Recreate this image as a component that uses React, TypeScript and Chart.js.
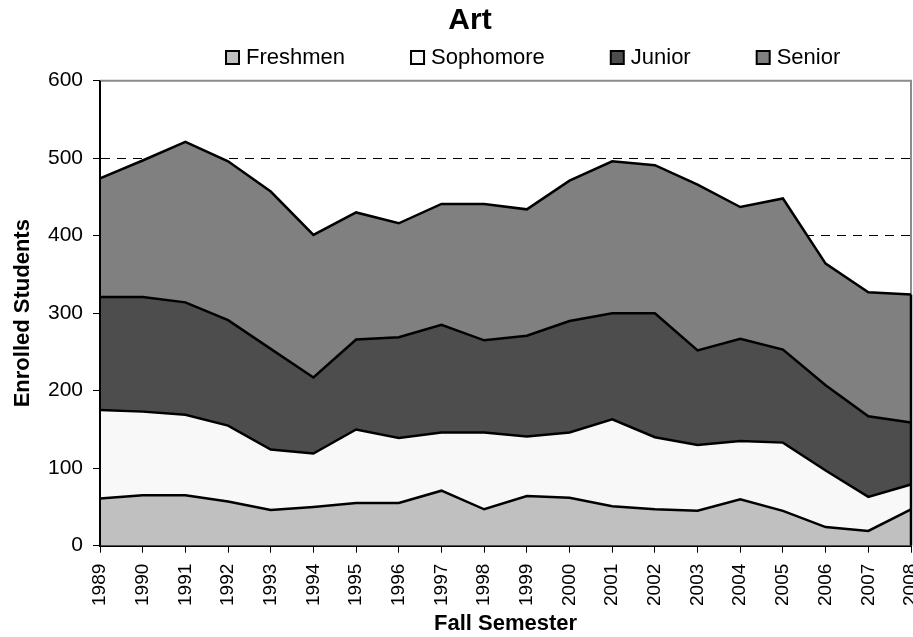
import React, { useEffect, useRef } from 'react';
import { Chart, registerables } from 'chart.js';

Chart.register(...registerables);

const years = ['1989', '1990', '1991', '1992', '1993', '1994', '1995', '1996', '1997', '1998', '1999', '2000', '2001', '2002', '2003', '2004', '2005', '2006', '2007', '2008'];
const freshmen = [61, 65, 65, 57, 46, 50, 55, 55, 71, 47, 64, 62, 51, 47, 45, 60, 45, 24, 19, 47];
const sophomore = [114, 108, 104, 98, 78, 69, 95, 84, 75, 99, 77, 84, 112, 93, 85, 75, 88, 73, 44, 32];
const junior = [146, 148, 145, 136, 130, 98, 116, 130, 139, 119, 130, 144, 137, 160, 122, 132, 120, 110, 104, 80];
const senior = [153, 176, 207, 205, 203, 184, 164, 147, 156, 176, 163, 181, 196, 191, 214, 170, 195, 157, 160, 165];

const seriesNames = ['Freshmen', 'Sophomore', 'Junior', 'Senior'];
const seriesValues = [freshmen, sophomore, junior, senior];
const seriesColors = ['#c0c0c0', '#f8f8f8', '#4d4d4d', '#808080'];

const yMin = 0;
const yMax = 600;
const yStep = 100;

const FONT = "'Liberation Sans', Arial, sans-serif";

export default function App() {
  const ref = useRef<HTMLCanvasElement>(null);

  useEffect(() => {
    document.body.style.margin = '0';
    const canvas = ref.current;
    if (!canvas) return;

    const legendPlugin = {
      id: 'customLegend',
      afterDraw(chart: any) {
        const ctx = chart.ctx;
        ctx.save();
        ctx.font = `22px ${FONT}`;
        ctx.textBaseline = 'middle';
        ctx.textAlign = 'left';
        let x = 226;
        const y = 57.5;
        chart.data.datasets.forEach((ds: any) => {
          ctx.fillStyle = ds.backgroundColor;
          ctx.fillRect(x, y - 6.5, 13, 13);
          ctx.lineWidth = 2;
          ctx.strokeStyle = '#000';
          ctx.strokeRect(x, y - 6.5, 13, 13);
          ctx.fillStyle = '#000';
          ctx.fillText(ds.label, x + 20, y);
          x += 20 + ctx.measureText(ds.label).width + 66;
        });
        ctx.restore();
      },
    };

    const framePlugin = {
      id: 'frame',
      beforeDatasetsDraw(chart: any) {
        const { ctx, chartArea: a } = chart;
        ctx.save();
        ctx.strokeStyle = '#8c8c8c';
        ctx.lineWidth = 2;
        ctx.beginPath();
        ctx.moveTo(a.left, a.top);
        ctx.lineTo(a.right, a.top);
        ctx.lineTo(a.right, a.bottom);
        ctx.stroke();
        ctx.restore();
      },
      afterDatasetsDraw(chart: any) {
        const { ctx, chartArea: a } = chart;
        const meta = chart.getDatasetMeta(chart.data.datasets.length - 1);
        const last = meta.data[meta.data.length - 1];
        ctx.save();
        ctx.strokeStyle = '#000';
        ctx.lineWidth = 2.5;
        ctx.beginPath();
        ctx.moveTo(a.right, a.bottom);
        ctx.lineTo(a.right, last.y);
        ctx.stroke();
        ctx.lineWidth = 2;
        ctx.beginPath();
        ctx.moveTo(a.left, a.top);
        ctx.lineTo(a.left, a.bottom);
        ctx.stroke();
        ctx.restore();
      },
    };

    const chart = new Chart(canvas, {
      type: 'line',
      data: {
        labels: years,
        datasets: seriesNames.map((name, i) => ({
          label: name,
          data: seriesValues[i],
          backgroundColor: seriesColors[i],
          borderColor: '#000',
          borderWidth: 2.5,
          fill: i === 0 ? 'origin' : '-1',
          pointRadius: 0,
          tension: 0,
        })),
      },
      options: {
        responsive: false,
        animation: false,
        layout: { padding: { left: 29, right: 2, top: 0, bottom: 0 } },
        plugins: {
          legend: { display: false },
          tooltip: { enabled: false },
          title: {
            display: true,
            text: 'Art',
            color: '#000',
            font: { family: FONT, size: 30, weight: 'bold' },
            padding: { top: 3, bottom: 41.7 },
          },
        },
        scales: {
          x: {
            type: 'category',
            offset: false,
            z: 1,
            grid: { drawOnChartArea: false, tickLength: 7, tickColor: '#000', tickWidth: 1 },
            border: { color: '#000', width: 3 },
            ticks: {
              autoSkip: false,
              minRotation: 90,
              maxRotation: 90,
              padding: 11,
              color: '#000',
              font: { family: FONT, size: 19 },
            },
            title: {
              display: true,
              text: 'Fall Semester',
              color: '#000',
              font: { family: FONT, size: 22, weight: 'bold' },
              padding: { top: 0, bottom: 0 },
            },
            afterFit(scale: any) {
              scale.height = 91.3;
              scale.paddingLeft = 0;
              scale.paddingRight = 0;
            },
          },
          y: {
            stacked: true,
            min: yMin,
            max: yMax,
            ticks: { stepSize: yStep, padding: 10, color: '#000', font: { family: FONT, size: 21 } },
            grid: {
              color: (c: any) => (c.tick && c.tick.value === yMax ? 'rgba(0,0,0,0)' : '#000'),
              lineWidth: 1,
              tickLength: 7,
              tickColor: '#000',
              tickWidth: 1,
            },
            border: { color: '#000', width: 2, dash: [9, 7] },
            title: {
              display: true,
              text: 'Enrolled Students',
              color: '#000',
              font: { family: FONT, size: 22, weight: 'bold' },
              padding: { top: -19.4, bottom: 0 },
            },
            afterFit(scale: any) {
              scale.width = 71;
            },
          },
        },
      } as any,
      plugins: [legendPlugin, framePlugin],
    });

    return () => {
      chart.destroy();
    };
  }, []);

  return <canvas ref={ref} width={913} height={637} style={{ display: 'block', width: 913, height: 637 }} />;
}
